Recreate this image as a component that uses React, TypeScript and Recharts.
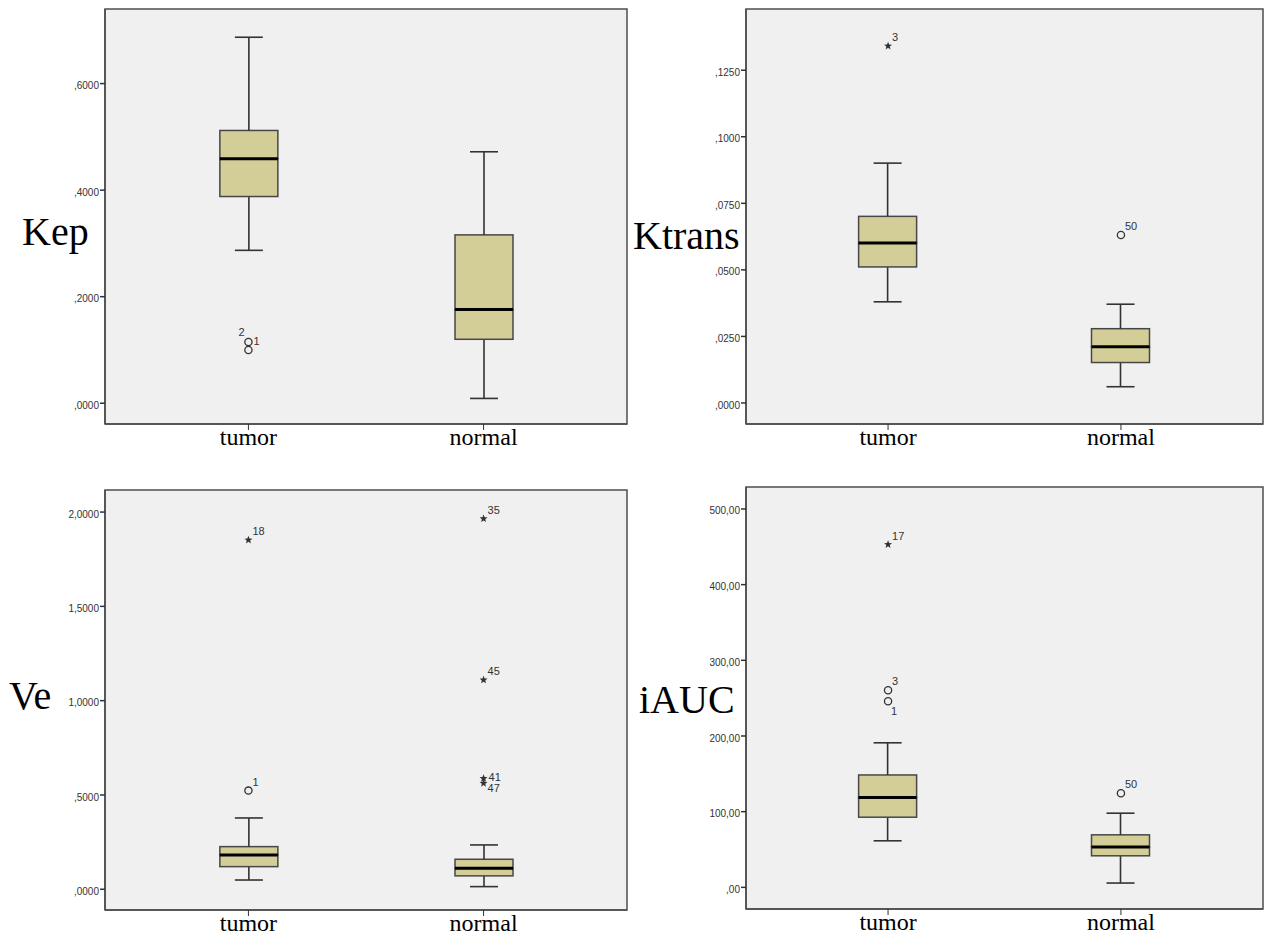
import React from "react";
import {
  Bar,
  CartesianGrid,
  ComposedChart,
  ReferenceArea,
  Scatter,
  XAxis,
  YAxis,
} from "recharts";

const groups = ["tumor", "normal"];

// [lower whisker, Q1, median, Q3, upper whisker] per group
const kepStats = [
  [0.287, 0.388, 0.459, 0.512, 0.687],
  [0.009, 0.12, 0.176, 0.316, 0.472],
];
const ktransStats = [
  [0.038, 0.0511, 0.0601, 0.0701, 0.0901],
  [0.0061, 0.0152, 0.0211, 0.0279, 0.0371],
];
const veStats = [
  [0.049, 0.12, 0.182, 0.226, 0.378],
  [0.014, 0.071, 0.111, 0.159, 0.235],
];
const iaucStats = [
  [61.5, 92.7, 118.6, 148.5, 191],
  [5.7, 41.7, 53.2, 69.4, 98],
];

// kind "o" = outlier, "*" = extreme
const kepOutliers = [
  { group: 0, value: 0.115, id: "1", kind: "o" },
  { group: 0, value: 0.1, id: "2", kind: "o" },
];
const ktransOutliers = [
  { group: 0, value: 0.1341, id: "3", kind: "*" },
  { group: 1, value: 0.0631, id: "50", kind: "o" },
];
const veOutliers = [
  { group: 0, value: 1.852, id: "18", kind: "*" },
  { group: 0, value: 0.523, id: "1", kind: "o" },
  { group: 1, value: 1.965, id: "35", kind: "*" },
  { group: 1, value: 1.11, id: "45", kind: "*" },
  { group: 1, value: 0.588, id: "41", kind: "*" },
  { group: 1, value: 0.562, id: "47", kind: "*" },
];
const iaucOutliers = [
  { group: 0, value: 453, id: "17", kind: "*" },
  { group: 0, value: 260.5, id: "3", kind: "o" },
  { group: 0, value: 246, id: "1", kind: "o" },
  { group: 1, value: 124.3, id: "50", kind: "o" },
];

const kepTicks = [0, 0.2, 0.4, 0.6];
const ktransTicks = [0, 0.025, 0.05, 0.075, 0.1, 0.125];
const veTicks = [0, 0.5, 1, 1.5, 2];
const iaucTicks = [0, 100, 200, 300, 400, 500];

type Outlier = { group: number; value: number; id: string; kind: string };

const X_DOMAIN: [number, number] = [0.39, 2.61];
const Y_AXIS_W = 60;
const X_AXIS_H = 24;
const BAR_W = 58;
const CAP_W = 28;
const LINE = "#333333";

// where each case label sits relative to its mark
const labelOffset: Record<string, [number, number]> = {
  ne: [4, -5],
  e: [5, 3],
  se: [4, 9],
  s: [3, 14],
  nw: [-10, -14],
};

const fmt = (v: number, decimals: number) => {
  const s = v.toFixed(decimals).replace(".", ",");
  return s.startsWith("0,") ? s.slice(1) : s;
};

const starPath = (cx: number, cy: number, r1: number, r2: number) => {
  let d = "";
  for (let i = 0; i < 10; i++) {
    const r = i % 2 ? r2 : r1;
    const a = -Math.PI / 2 + (i * Math.PI) / 5;
    d += (i ? "L" : "M") + (cx + r * Math.cos(a)).toFixed(2) + "," + (cy + r * Math.sin(a)).toFixed(2);
  }
  return d + "Z";
};

const LowWhisker = (p: any) => {
  const cx = p.x + p.width / 2;
  const yb = p.y + p.height;
  return (
    <g stroke={LINE} strokeWidth={1.6}>
      <line x1={cx} x2={cx} y1={p.y} y2={yb} />
      <line x1={cx - CAP_W / 2} x2={cx + CAP_W / 2} y1={yb} y2={yb} />
    </g>
  );
};

const HighWhisker = (p: any) => {
  const cx = p.x + p.width / 2;
  return (
    <g stroke={LINE} strokeWidth={1.6}>
      <line x1={cx} x2={cx} y1={p.y} y2={p.y + p.height} />
      <line x1={cx - CAP_W / 2} x2={cx + CAP_W / 2} y1={p.y} y2={p.y} />
    </g>
  );
};

const BoxLower = (p: any) => (
  <rect x={p.x} y={p.y} width={p.width} height={p.height} fill="#d3ce97" stroke="#474747" strokeWidth={1.5} />
);

const BoxUpper = (p: any) => (
  <g>
    <rect x={p.x} y={p.y} width={p.width} height={p.height} fill="#d3ce97" stroke="#474747" strokeWidth={1.5} />
    <line x1={p.x} x2={p.x + p.width} y1={p.y + p.height} y2={p.y + p.height} stroke="#000" strokeWidth={3} />
  </g>
);

interface PanelProps {
  name: string;
  stats: number[][];
  outliers: Outlier[];
  ticks: number[];
  domain: [number, number];
  decimals: number;
  box: { left: number; top: number; width: number; height: number };
  frame: { left: number; top: number; right: number; bottom: number };
  titlePos: { left: number; top: number };
  sides: Record<string, string>;
}

const Panel = ({ name, stats, outliers, ticks, domain, decimals, box, frame, titlePos, sides }: PanelProps) => {
  const rows = stats.map((s, i) => ({
    pos: i + 1,
    base: s[0],
    lowW: s[1] - s[0],
    boxLo: s[2] - s[1],
    boxHi: s[3] - s[2],
    highW: s[4] - s[3],
  }));
  const points = outliers.map((o) => ({ pos: o.group + 1, value: o.value, id: o.id, kind: o.kind }));
  const margin = {
    top: frame.top - box.top,
    left: frame.left - box.left - Y_AXIS_W,
    right: box.left + box.width - frame.right,
    bottom: box.top + box.height - frame.bottom - X_AXIS_H,
  };

  const Mark = (p: any) => {
    const { cx, cy, payload } = p;
    const [dx, dy] = labelOffset[sides[payload.id] || "ne"];
    return (
      <g>
        {payload.kind === "*" ? (
          <path d={starPath(cx, cy, 4.2, 1.8)} fill={LINE} />
        ) : (
          <circle cx={cx} cy={cy} r={3.6} fill="none" stroke={LINE} strokeWidth={1.3} />
        )}
        <text x={cx + dx} y={cy + dy} fontSize={11} fontFamily="Liberation Sans, Arial, sans-serif" fill={LINE}>
          {payload.id}
        </text>
      </g>
    );
  };

  return (
    <>
      <div
        style={{
          position: "absolute",
          left: titlePos.left,
          top: titlePos.top,
          fontFamily: "'Liberation Serif', 'Times New Roman', serif",
          fontSize: 40,
          lineHeight: "40px",
          color: "#000",
          whiteSpace: "nowrap",
        }}
      >
        {name}
      </div>
      <div style={{ position: "absolute", left: box.left, top: box.top }}>
        <ComposedChart width={box.width} height={box.height} data={rows} margin={margin}>
          <CartesianGrid fill="#f0f0f0" stroke="none" horizontal={false} vertical={false} />
          <XAxis
            type="number"
            dataKey="pos"
            domain={X_DOMAIN}
            ticks={[1, 2]}
            allowDataOverflow
            tickFormatter={(v: number) => groups[v - 1]}
            height={X_AXIS_H}
            tickSize={6}
            tickMargin={-2}
            axisLine={{ stroke: "#4d4d4d", strokeWidth: 1.5 }}
            tickLine={{ stroke: LINE }}
            tick={{ fontSize: 24, fill: "#000", fontFamily: "'Liberation Serif', 'Times New Roman', serif" }}
          />
          <YAxis
            type="number"
            domain={domain}
            ticks={ticks}
            allowDataOverflow
            width={Y_AXIS_W}
            tickSize={5}
            tickMargin={1}
            tickFormatter={(v: number) => fmt(v, decimals)}
            axisLine={{ stroke: "#4d4d4d", strokeWidth: 1.5 }}
            tickLine={{ stroke: LINE, strokeWidth: 1.5 }}
            tick={{ fontSize: 10, fill: LINE, fontFamily: "Liberation Sans, Arial, sans-serif", dy: 2 }}
          />
          <ReferenceArea
            x1={X_DOMAIN[0]}
            x2={X_DOMAIN[1]}
            y1={domain[0]}
            y2={domain[1]}
            fill="none"
            stroke="#4d4d4d"
            strokeWidth={1.5}
            ifOverflow="visible"
          />
          <Bar dataKey="base" stackId="b" barSize={BAR_W} fill="none" isAnimationActive={false} />
          <Bar dataKey="lowW" stackId="b" barSize={BAR_W} shape={LowWhisker} isAnimationActive={false} />
          <Bar dataKey="boxLo" stackId="b" barSize={BAR_W} shape={BoxLower} isAnimationActive={false} />
          <Bar dataKey="boxHi" stackId="b" barSize={BAR_W} shape={BoxUpper} isAnimationActive={false} />
          <Bar dataKey="highW" stackId="b" barSize={BAR_W} shape={HighWhisker} isAnimationActive={false} />
          <Scatter data={points} dataKey="value" shape={Mark} isAnimationActive={false} />
        </ComposedChart>
      </div>
    </>
  );
};

export default function App() {
  return (
    <div style={{ position: "absolute", left: 0, top: 0, width: 1268, height: 937, background: "#fff" }}>
      <Panel
        name="Kep"
        stats={kepStats}
        outliers={kepOutliers}
        ticks={kepTicks}
        domain={[-0.039, 0.74]}
        decimals={4}
        box={{ left: 0, top: 0, width: 634, height: 465 }}
        frame={{ left: 105, top: 9, right: 627, bottom: 424 }}
        titlePos={{ left: 22, top: 212 }}
        sides={{ "1": "e", "2": "nw" }}
      />
      <Panel
        name="Ktrans"
        stats={ktransStats}
        outliers={ktransOutliers}
        ticks={ktransTicks}
        domain={[-0.0079, 0.148]}
        decimals={4}
        box={{ left: 634, top: 0, width: 634, height: 465 }}
        frame={{ left: 746, top: 9, right: 1263, bottom: 424 }}
        titlePos={{ left: 633, top: 216 }}
        sides={{}}
      />
      <Panel
        name="Ve"
        stats={veStats}
        outliers={veOutliers}
        ticks={veTicks}
        domain={[-0.11, 2.117]}
        decimals={4}
        box={{ left: 0, top: 465, width: 634, height: 472 }}
        frame={{ left: 105, top: 490, right: 627, bottom: 910 }}
        titlePos={{ left: 9, top: 676 }}
        sides={{ "41": "e", "47": "se" }}
      />
      <Panel
        name="iAUC"
        stats={iaucStats}
        outliers={iaucOutliers}
        ticks={iaucTicks}
        domain={[-28.6, 529]}
        decimals={2}
        box={{ left: 634, top: 465, width: 634, height: 472 }}
        frame={{ left: 746, top: 487, right: 1263, bottom: 909 }}
        titlePos={{ left: 639, top: 680 }}
        sides={{ "1": "s" }}
      />
    </div>
  );
}
